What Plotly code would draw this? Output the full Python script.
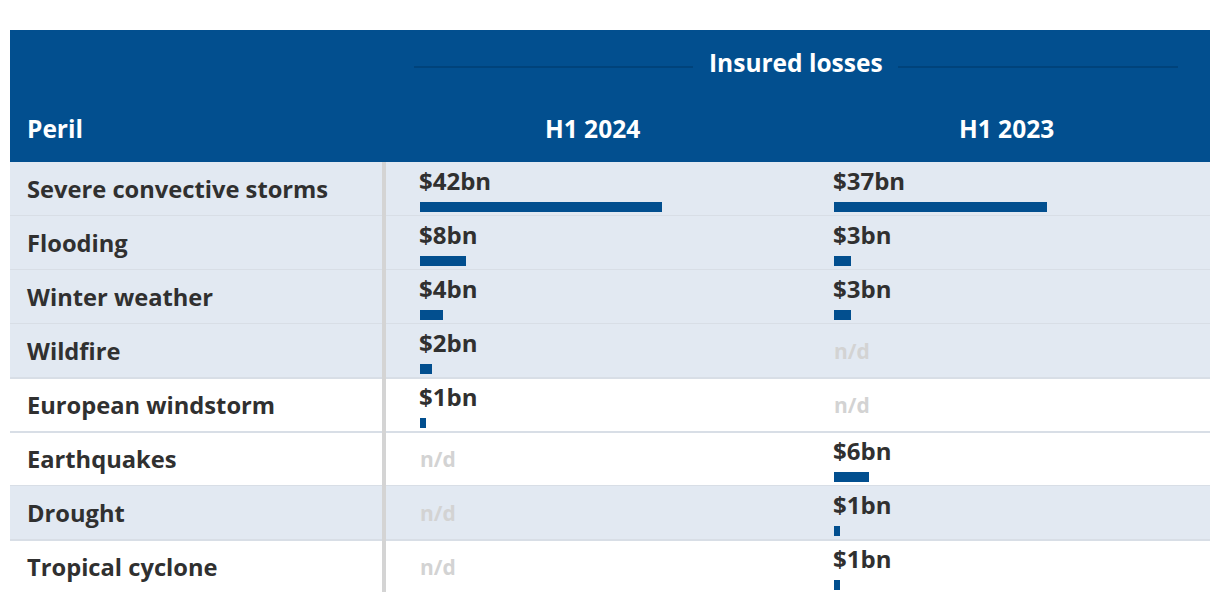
import plotly.graph_objects as go

perils = ["Severe convective storms", "Flooding", "Winter weather", "Wildfire",
          "European windstorm", "Earthquakes", "Drought", "Tropical cyclone"]
h1_2024 = [42, 8, 4, 2, 1, None, None, None]
h1_2023 = [37, 3, 3, None, None, 6, 1, 1]
col_titles = ["H1 2024", "H1 2023"]
group_title = "Insured losses"
first_col_title = "Peril"
shaded_rows = [0, 1, 2, 3, 6]

OFF = 8                       # page body margin
W, H = 1220 - 2 * OFF, 602 - 2 * OFF
TOP = 162 - OFF               # pixel where rows start (figure coords)
ROW_H = 54
PX_PER_BN = 5.76
BLUE = "#024F8F"
TXT = "#303030"
FONT = "Open Sans"

def fx(px):   # page x pixel -> paper fraction
    return (px - OFF) / W

def py2row(py):  # page y pixel -> row units
    return (py - OFF - TOP) / ROW_H

fig = go.Figure()

col_left = [420, 834]
for vals, xa in [(h1_2024, "x"), (h1_2023, "x2")]:
    ys = [i + 45 / ROW_H for i, v in enumerate(vals) if v is not None]
    xs = [v for v in vals if v is not None]
    fig.add_trace(go.Bar(x=xs, y=ys, orientation="h", xaxis=xa, yaxis="y",
                         marker=dict(color=BLUE, line=dict(width=0)),
                         width=10 / ROW_H, hoverinfo="skip", showlegend=False))

ax = dict(visible=False, fixedrange=True)
fig.update_layout(
    width=W, height=H, margin=dict(l=0, r=0, t=0, b=0),
    paper_bgcolor="white", plot_bgcolor="rgba(0,0,0,0)",
    xaxis=dict(domain=[fx(col_left[0]), 1], range=[0, (W + OFF - col_left[0]) / PX_PER_BN], **ax),
    xaxis2=dict(domain=[fx(col_left[1]), 1], range=[0, (W + OFF - col_left[1]) / PX_PER_BN], **ax),
    yaxis=dict(domain=[0, 1], range=[py2row(H + OFF), py2row(OFF)], **ax),
    bargap=0,
)

shapes = []
shapes.append(dict(type="rect", xref="paper", yref="y", x0=fx(10), x1=fx(1210),
                   y0=py2row(30), y1=0, fillcolor=BLUE, line_width=0, layer="below"))
for x0, x1 in [(414, 693), (898, 1178)]:
    shapes.append(dict(type="line", xref="paper", yref="y", x0=fx(x0), x1=fx(x1),
                       y0=py2row(67), y1=py2row(67), line=dict(color="#003F75", width=1.5)))
for i in range(len(perils)):
    if i in shaded_rows:
        shapes.append(dict(type="rect", xref="paper", yref="y", x0=fx(10), x1=fx(1210),
                           y0=i, y1=i + 1, fillcolor="#E2E9F2", line_width=0, layer="below"))
    if i < len(perils) - 1:
        shapes.append(dict(type="line", xref="paper", yref="y", x0=fx(10), x1=fx(1210),
                           y0=i + 1, y1=i + 1, line=dict(color="#D8DEE6", width=2), layer="below"))
shapes.append(dict(type="rect", xref="paper", yref="y", x0=fx(382), x1=fx(386),
                   y0=0, y1=py2row(592), fillcolor="#D4D4D4", line_width=0))
fig.update_layout(shapes=shapes)

ann = []
ann.append(dict(text=f"<b>{group_title}</b>", xref="paper", yref="y", x=fx(796), y=py2row(62),
                showarrow=False, font=dict(family=FONT, size=24.5, color="white"),
                xanchor="center", yanchor="middle"))
ann.append(dict(text=f"<b>{first_col_title}</b>", xref="paper", yref="y", x=fx(27), y=py2row(128),
                showarrow=False, font=dict(family=FONT, size=24.5, color="white"),
                xanchor="left", yanchor="middle", xshift=-2))
for t, cx in zip(col_titles, [592, 1006]):
    ann.append(dict(text=f"<b>{t}</b>", xref="paper", yref="y", x=fx(cx), y=py2row(128),
                    showarrow=False, font=dict(family=FONT, size=24.5, color="white"),
                    xanchor="center", yanchor="middle"))
for i, p in enumerate(perils):
    ann.append(dict(text=f"<b>{p}</b>", xref="paper", yref="y", x=fx(27), y=i + 26.5 / ROW_H,
                    showarrow=False, font=dict(family=FONT, size=23.7, color=TXT),
                    xanchor="left", yanchor="middle", xshift=-2))
for vals, xr, cl in [(h1_2024, "x", col_left[0]), (h1_2023, "x2", col_left[1])]:
    for i, v in enumerate(vals):
        if v is None:
            ann.append(dict(text="<b>n/d</b>", xref="paper", yref="y", x=fx(cl), y=i + 0.5,
                            showarrow=False, font=dict(family=FONT, size=21, color="#D3D3D3"),
                            xanchor="left", yanchor="middle", xshift=-2))
        else:
            ann.append(dict(text=f"<b>${v}bn</b>", xref=xr, yref="y", x=0, y=i + 18.5 / ROW_H,
                            showarrow=False, font=dict(family=FONT, size=24, color=TXT),
                            xanchor="left", yanchor="middle", xshift=-3))
fig.update_layout(annotations=ann)

fig.write_html("out.html")
